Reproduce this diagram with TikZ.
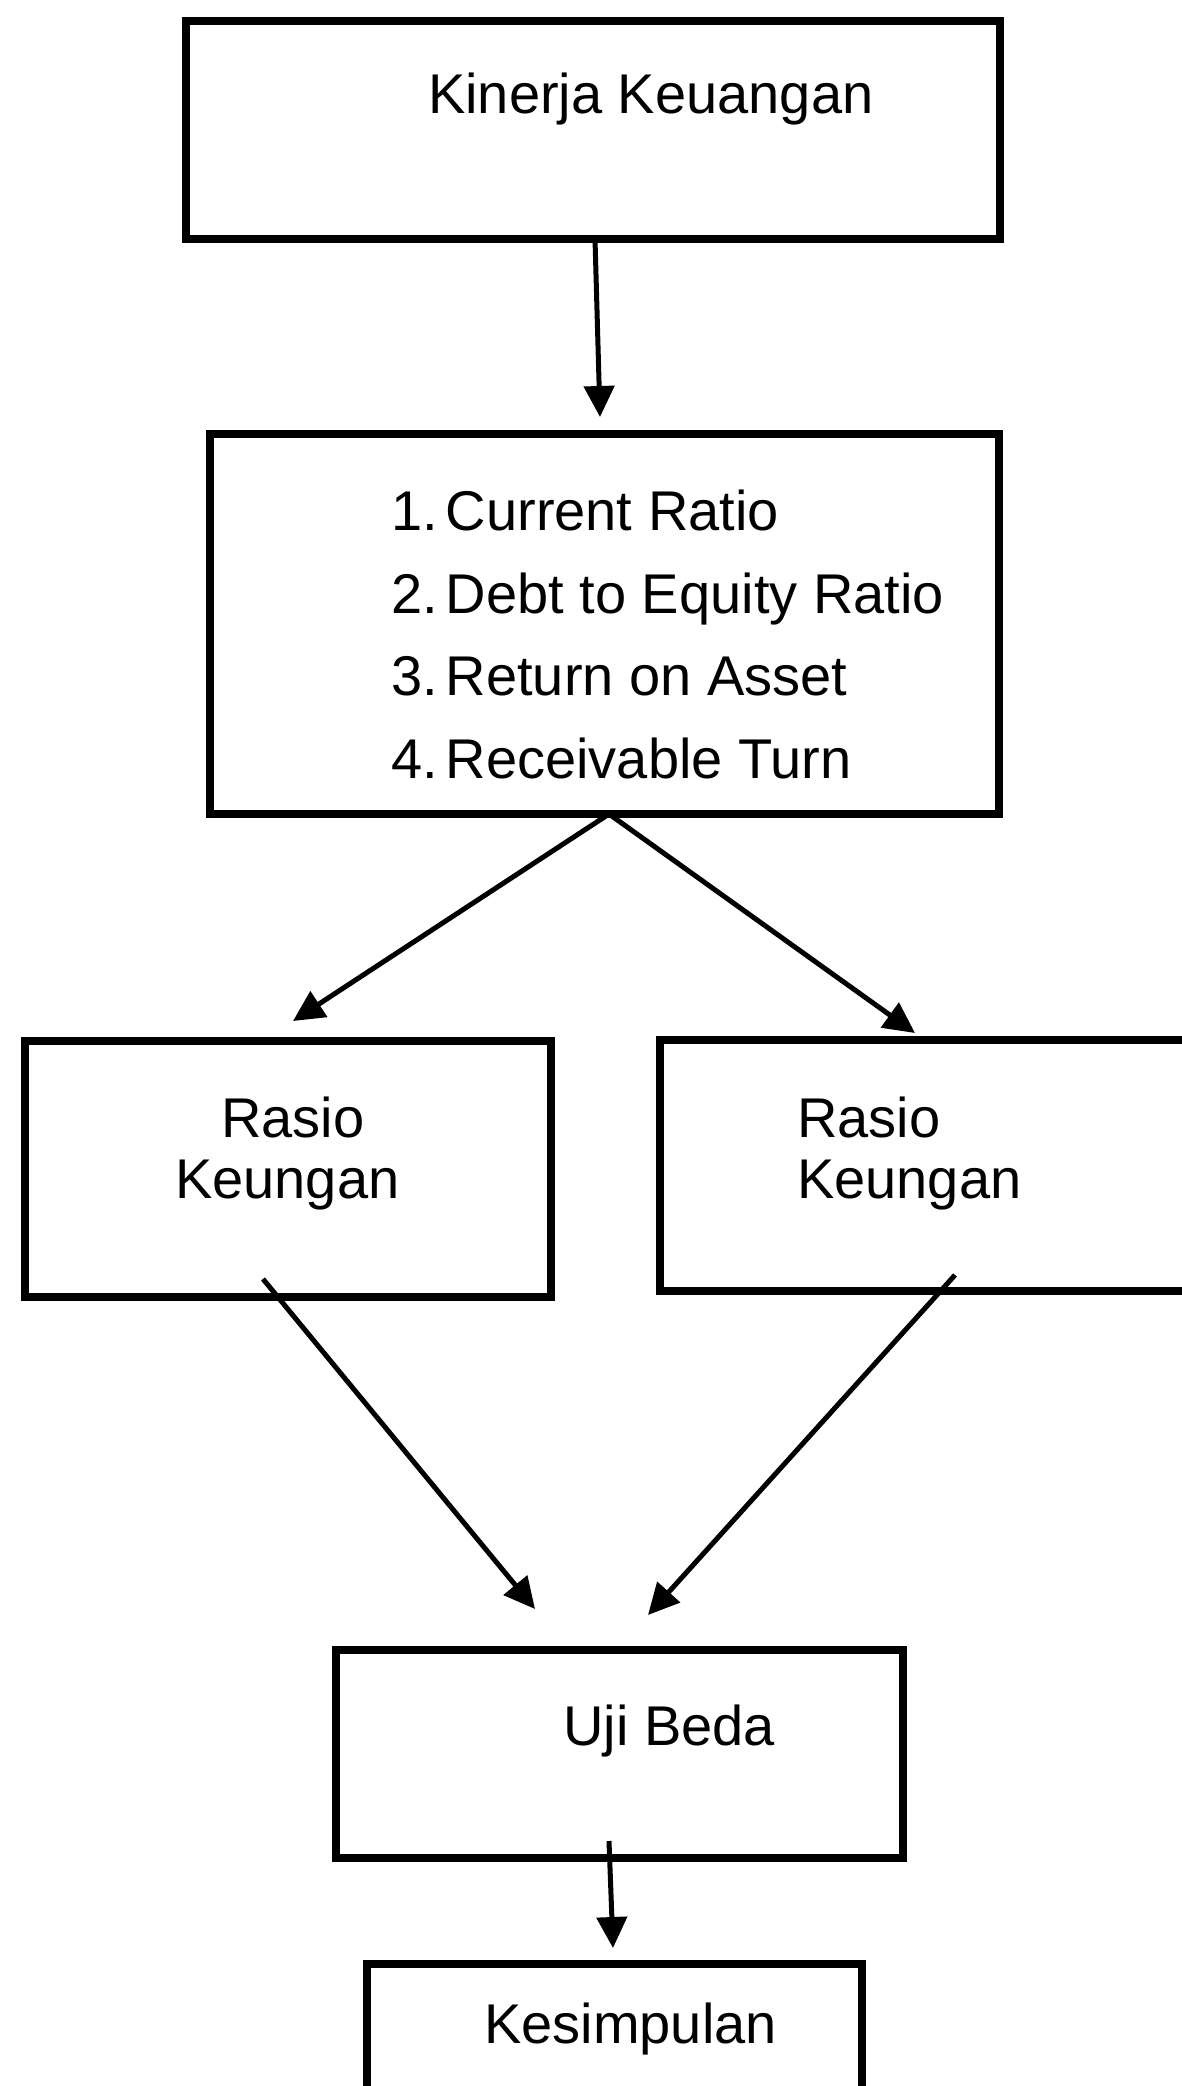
\documentclass[tikz,border=0pt]{standalone}
\usepackage{fontspec}
\setmainfont{Liberation Sans}
\usetikzlibrary{arrows.meta}
\begin{document}
\begin{tikzpicture}[x=1pt,y=-1pt,
  box/.style={draw, line width=7.5pt, inner sep=0pt, outer sep=0pt, anchor=north west},
  lbl/.style={anchor=base west, inner sep=0pt, font=\fontsize{56}{67}\selectfont},
  arr/.style={line width=5pt, -{Triangle[length=31pt,width=30pt]}}]
\useasboundingbox (0,0) rectangle (1181,2086);
% boxes
\node[box, minimum width=814pt, minimum height=218pt] (b1) at (186,21) {};
\node[box, minimum width=789pt, minimum height=380pt] (b2) at (210,434) {};
\node[box, minimum width=526pt, minimum height=256pt] (bl) at (25,1041) {};
\node[box, minimum width=530pt, minimum height=251pt] (br) at (660,1040) {};
\node[box, minimum width=567pt, minimum height=208pt] (bu) at (336,1650) {};
\node[box, minimum width=495pt, minimum height=200pt] (bk) at (367,1964) {};
% texts
\node[lbl] (t1) at (428,113) {Kinerja Keuangan};
\node[lbl] (t2a) at (391,530) {1.\hspace{8pt}Current Ratio};
\node[lbl] (t2b) at (391,613) {2.\hspace{8pt}Debt to Equity Ratio};
\node[lbl] (t2c) at (391,695) {3.\hspace{8pt}Return on Asset};
\node[lbl] (t2d) at (391,778) {4.\hspace{8pt}Receivable Turn};
\node[lbl] (tl1) at (221,1137) {Rasio};
\node[lbl] (tl2) at (175,1198) {Keungan};
\node[lbl] (tr1) at (797,1137) {Rasio};
\node[lbl] (tr2) at (797,1198) {Keungan};
\node[lbl] (tu) at (563,1745) {Uji Beda};
\node[lbl] (tk) at (484,2043) {Kesimpulan};
% connector ends
\coordinate (a1e) at (600,417);
\coordinate (b2s) at (609,814);
\coordinate (a2e) at (293,1021);
\coordinate (a3e) at (915,1033);
\coordinate (a4s) at (263,1279);
\coordinate (a4e) at (535,1609);
\coordinate (a5s) at (955,1275);
\coordinate (a5e) at (648,1615);
\coordinate (a6s) at (609,1841);
\coordinate (a6e) at (613,1948);
% connectors
\draw[arr] ([xshift=2pt]b1.south) -- (a1e);
\draw[arr] (b2s) -- (a2e);
\draw[arr] (b2s) -- (a3e);
\draw[arr] (a4s) -- (a4e);
\draw[arr] (a5s) -- (a5e);
\draw[arr] (a6s) -- (a6e);
\end{tikzpicture}
\end{document}
